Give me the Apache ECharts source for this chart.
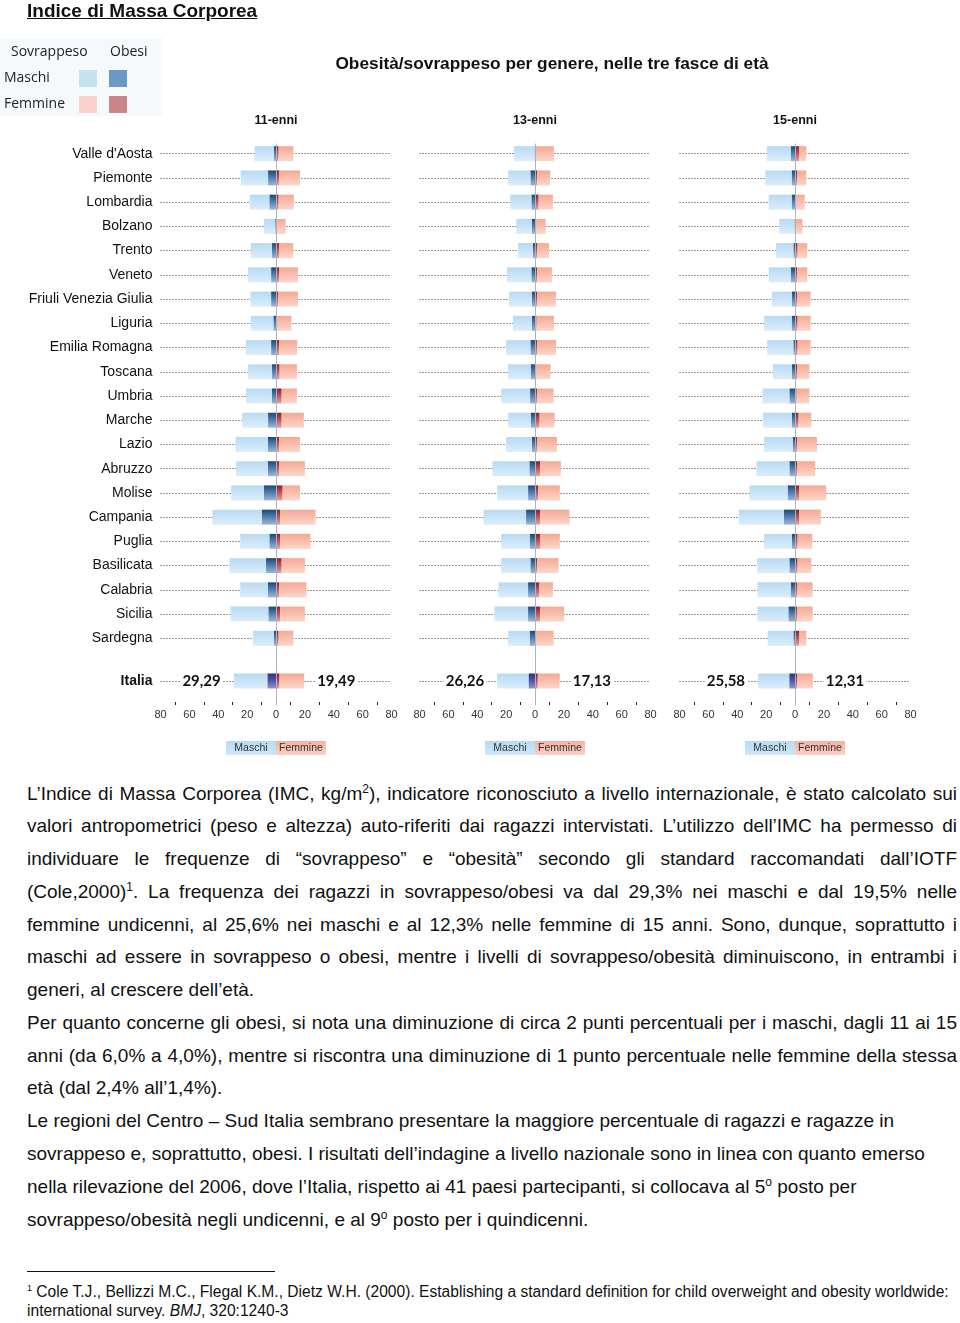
<!DOCTYPE html>
<html><head><meta charset="utf-8">
<script src="https://cdn.jsdelivr.net/npm/echarts@6/dist/echarts.min.js"></script>
<style>
html,body{margin:0;padding:0;background:#fff;width:960px;height:1323px;overflow:hidden;position:relative;font-family:'Liberation Sans',Arial,sans-serif;color:#111}
#chart{position:absolute;left:0;top:0;width:960px;height:770px}
#heading{position:absolute;left:27px;top:0px;font-weight:bold;font-size:19px;line-height:22px;text-decoration:underline;color:#111;z-index:2}
#txt{position:absolute;left:27px;top:777.6px;width:930px;font-size:19px;line-height:32.76px;color:#111}
#txt div{white-space:nowrap}
#txt div.j{white-space:normal;text-align:justify;text-align-last:justify}
#txt sup{font-size:12px;line-height:0;vertical-align:7px}
#rule{position:absolute;left:27px;top:1271px;width:248px;height:1px;background:#111}
#foot{position:absolute;left:27px;top:1282px;width:930px;font-size:15.6px;line-height:19px;color:#111}
#foot div{white-space:nowrap}
#foot sup{font-size:9px;line-height:0;vertical-align:6px}
</style></head>
<body>
<div id="heading">Indice di Massa Corporea</div>
<div id="chart"></div>
<div id="txt">
<div class="j">L’Indice di Massa Corporea (IMC, kg/m<sup>2</sup>), indicatore riconosciuto a livello internazionale, è stato calcolato sui</div>
<div class="j">valori antropometrici (peso e altezza) auto-riferiti dai ragazzi intervistati. L’utilizzo dell’IMC ha permesso di</div>
<div class="j">individuare le frequenze di “sovrappeso” e “obesità” secondo gli standard raccomandati dall’IOTF</div>
<div class="j">(Cole,2000)<sup>1</sup>. La frequenza dei ragazzi in sovrappeso/obesi va dal 29,3% nei maschi e dal 19,5% nelle</div>
<div class="j">femmine undicenni, al 25,6% nei maschi e al 12,3% nelle femmine di 15 anni. Sono, dunque, soprattutto i</div>
<div class="j">maschi ad essere in sovrappeso o obesi, mentre i livelli di sovrappeso/obesità diminuiscono, in entrambi i</div>
<div>generi, al crescere dell’età.</div>
<div class="j">Per quanto concerne gli obesi, si nota una diminuzione di circa 2 punti percentuali per i maschi, dagli 11 ai 15</div>
<div class="j">anni (da 6,0% a 4,0%), mentre si riscontra una diminuzione di 1 punto percentuale nelle femmine della stessa</div>
<div>età (dal 2,4% all’1,4%).</div>
<div>Le regioni del Centro – Sud Italia sembrano presentare la maggiore percentuale di ragazzi e ragazze in</div>
<div>sovrappeso e, soprattutto, obesi. I risultati dell’indagine a livello nazionale sono in linea con quanto emerso</div>
<div>nella rilevazione del 2006, dove l’Italia, rispetto ai 41 paesi partecipanti, si collocava al 5<sup>o</sup> posto per</div>
<div>sovrappeso/obesità negli undicenni, e al 9<sup>o</sup> posto per i quindicenni.</div>
</div>
<div id="rule"></div>
<div id="foot">
<div><sup>1</sup> Cole T.J., Bellizzi M.C., Flegal K.M., Dietz W.H. (2000). Establishing a standard definition for child overweight and obesity worldwide:</div>
<div>international survey. <i>BMJ</i>, 320:1240-3</div>
</div>
<script>
// ---------- DATA ----------
const regions = ["Valle d'Aosta","Piemonte","Lombardia","Bolzano","Trento","Veneto","Friuli Venezia Giulia","Liguria","Emilia Romagna","Toscana","Umbria","Marche","Lazio","Abruzzo","Molise","Campania","Puglia","Basilicata","Calabria","Sicilia","Sardegna"];
const ageGroups = ["11-enni","13-enni","15-enni"];
const italiaLabel = "Italia";

// Sovrappeso+obesi (total) and obesi, per region
const m11Tot = [14.9,24.4,18.2,8.3,17.5,19.3,17.7,17.5,20.9,19.3,20.8,23.4,28.0,27.6,31.0,44.1,24.8,32.2,24.8,31.5,15.9];
const m11Ob  = [1.4,5.5,4.6,0.5,2.8,3.4,3.4,1.8,3.4,2.8,2.8,5.5,5.7,5.7,8.3,9.9,4.6,6.9,5.7,5.3,1.4];
const f11Tot = [12.0,16.6,12.4,6.7,12.0,15.2,15.2,10.6,14.7,14.5,14.5,19.3,16.6,20.0,16.6,27.4,23.9,20.0,21.1,20.0,12.0];
const f11Ob  = [1.8,2.3,1.8,0.5,2.3,2.3,1.4,0.5,2.3,2.5,3.9,3.9,2.3,2.3,4.6,2.8,2.8,3.9,2.3,2.8,1.8];

const m13Tot = [14.5,18.6,17.2,12.9,11.7,19.5,17.9,15.2,20.0,18.6,23.4,18.6,20.0,29.4,26.2,35.6,23.4,23.4,25.3,28.0,18.6];
const m13Ob  = [0.3,3.2,2.5,2.1,1.4,2.5,2.1,2.1,3.2,3.0,3.4,3.0,2.1,3.9,4.8,6.2,3.7,3.2,4.8,4.8,3.7];
const f13Tot = [13.1,10.6,12.4,7.4,9.7,11.7,14.5,13.1,14.5,10.8,12.9,13.6,15.2,17.9,17.2,23.9,17.2,16.3,12.4,20.2,12.9];
const f13Ob  = [0.3,1.6,2.5,0.9,1.4,1.6,1.4,1.1,1.6,0.9,1.6,3.2,1.6,3.7,2.3,3.7,3.7,1.6,3.0,3.7,0.5];

const m15Tot = [19.5,20.5,18.2,11.0,13.1,18.2,16.1,21.4,19.3,15.4,22.5,22.1,21.4,26.7,31.5,38.9,21.4,26.2,26.0,26.0,18.9];
const m15Ob  = [3.0,2.3,2.3,0.3,1.1,3.0,2.1,2.3,1.1,2.1,3.9,2.1,1.6,3.9,5.1,7.8,2.1,3.9,3.0,4.6,1.1];
const f15Tot = [7.8,7.8,6.7,5.1,8.5,8.5,10.8,10.8,10.8,9.9,9.9,11.3,15.2,14.0,21.6,17.9,12.0,11.3,12.2,12.2,7.8];
const f15Ob  = [3.0,1.4,0.7,0.3,1.8,1.4,1.4,1.8,1.8,1.4,1.1,2.5,1.4,1.4,3.0,3.0,1.8,1.8,1.4,1.4,3.0];

// Italia
const italiaMTot = [29.29,26.26,25.58];
const italiaMOb  = [6.0,4.5,4.0];
const italiaFTot = [19.49,17.13,12.31];
const italiaFOb  = [2.4,1.9,1.4];

const legendRows = ["Maschi","Femmine"];
const legendCols = ["Sovrappeso","Obesi"];

// ---------- CHART ----------
const panels = [
  {mTot:m11Tot,mOb:m11Ob,fTot:f11Tot,fOb:f11Ob},
  {mTot:m13Tot,mOb:m13Ob,fTot:f13Tot,fOb:f13Ob},
  {mTot:m15Tot,mOb:m15Ob,fTot:f15Tot,fOb:f15Ob}
];
const G = echarts.graphic.LinearGradient;
const cLight = () => new G(0,0,0,1,[{offset:0,color:'#b7daf3'},{offset:1,color:'#dcedfa'}]);
const cDark  = () => new G(0,0,0,1,[{offset:0,color:'#1c4776'},{offset:0.5,color:'#5680b0'},{offset:1,color:'#9cb9d8'}]);
const cSalm  = () => new G(0,0,0,1,[{offset:0,color:'#f5a892'},{offset:1,color:'#fcd6cb'}]);
const cRed   = () => new G(0,0,0,1,[{offset:0,color:'#8c1d2a'},{offset:0.5,color:'#c4555c'},{offset:1,color:'#e6a5a3'}]);

const zeroX = [276,535,795];
const halfW = 115.5;
const rowTop = 141.6, rowH = 24.23;
const itTop = 657, itH = 48;
const fmt = v => v.toFixed(2).replace('.',',');
const FONT = "'Liberation Sans', Arial, sans-serif";

const grid=[], xAxis=[], yAxis=[], series=[], graphic=[];
panels.forEach((P,p)=>{
  const left = zeroX[p]-halfW;
  grid.push({left:left, width:2*halfW, top:rowTop, height:regions.length*rowH});
  grid.push({left:left, width:2*halfW, top:itTop, height:itH});
  grid.push({left:left, width:2*halfW, top:144, height:itTop+itH-144});
  const gi = 3*p;
  xAxis.push({gridIndex:gi, type:'value', min:-80, max:80, show:false});
  xAxis.push({gridIndex:gi+1, type:'value', min:-80, max:80, interval:20,
    axisLine:{lineStyle:{color:'#222',width:1}},
    axisTick:{inside:true,length:4,lineStyle:{color:'#222'}},
    minorTick:{show:true,splitNumber:2,length:3,lineStyle:{color:'#222'}},
    splitLine:{show:false},
    axisLabel:{formatter:v=>Math.abs(v),fontSize:11,color:'#333',margin:4,fontFamily:FONT}});
  xAxis.push({gridIndex:gi+2, type:'value', min:-80, max:80, show:false});
  yAxis.push({gridIndex:gi, type:'category', data:regions, inverse:true,
    axisLine:{show:false}, axisTick:{show:false}, splitLine:{show:false},
    axisLabel:{show:p===0, fontSize:14, color:'#111', margin:8, padding:[5,0,0,0], fontFamily:FONT}});
  yAxis.push({gridIndex:gi+1, type:'category', data:[italiaLabel],
    axisLine:{show:false}, axisTick:{show:false}, splitLine:{show:false},
    axisLabel:{show:p===0, fontSize:14, fontWeight:'bold', color:'#111', margin:8, padding:[4,0,0,0], fontFamily:FONT}});
  yAxis.push({gridIndex:gi+2, type:'value', min:0, max:1, z:6,
    axisLine:{show:true,onZero:true,lineStyle:{color:'#aeb4ba',width:1}},
    axisTick:{show:false}, axisLabel:{show:false}, splitLine:{show:false}});

  const dotted = {lineStyle:{type:[1,2],color:'#333',width:1}};
  const stack = 's'+p;
  // regional bars
  series.push({type:'bar', name:'Obesi Maschi', xAxisIndex:gi, yAxisIndex:gi, stack:stack, barWidth:15, z:2,
    data:P.mOb.map(v=>-v), itemStyle:{color:cDark()},
    markLine:{silent:true, symbol:'none', z:1, label:{show:false}, ...dotted, data:regions.map(r=>({yAxis:r}))}});
  series.push({type:'bar', name:'Sovrappeso Maschi', xAxisIndex:gi, yAxisIndex:gi, stack:stack, barWidth:15, z:2,
    data:P.mTot.map((v,i)=>-(v-P.mOb[i])), itemStyle:{color:cLight()}});
  series.push({type:'bar', name:'Obesi Femmine', xAxisIndex:gi, yAxisIndex:gi, stack:stack, barWidth:15, z:2,
    data:P.fOb.slice(), itemStyle:{color:cRed()}});
  series.push({type:'bar', name:'Sovrappeso Femmine', xAxisIndex:gi, yAxisIndex:gi, stack:stack, barWidth:15, z:2,
    data:P.fTot.map((v,i)=>v-P.fOb[i]), itemStyle:{color:cSalm()}});
  // Italia bars
  const lab = {fontFamily:"Lato, 'Open Sans', sans-serif", fontWeight:'bold', fontSize:15, color:'#111', backgroundColor:'#fff', padding:[0,2]};
  const stI = 'i'+p;
  series.push({type:'bar', name:'Obesi Maschi', xAxisIndex:gi+1, yAxisIndex:gi+1, stack:stI, barWidth:15, z:2,
    data:[-italiaMOb[p]], itemStyle:{color:new G(0,0,0,1,[{offset:0,color:'#2d2f86'},{offset:0.5,color:'#5458a8'},{offset:1,color:'#8d96cc'}])},
    markLine:{silent:true, symbol:'none', z:1, label:{show:false}, ...dotted, data:[{yAxis:italiaLabel}]}});
  series.push({type:'bar', name:'Sovrappeso Maschi', xAxisIndex:gi+1, yAxisIndex:gi+1, stack:stI, barWidth:15, z:2,
    data:[-(italiaMTot[p]-italiaMOb[p])], itemStyle:{color:cLight()},
    label:{show:true, position:'left', distance:11, formatter:()=>fmt(italiaMTot[p]), ...lab}});
  series.push({type:'bar', name:'Obesi Femmine', xAxisIndex:gi+1, yAxisIndex:gi+1, stack:stI, barWidth:15, z:2,
    data:[italiaFOb[p]], itemStyle:{color:new G(0,0,0,1,[{offset:0,color:'#7d1830'},{offset:0.5,color:'#b04860'},{offset:1,color:'#dc9aa5'}])}});
  series.push({type:'bar', name:'Sovrappeso Femmine', xAxisIndex:gi+1, yAxisIndex:gi+1, stack:stI, barWidth:15, z:2,
    data:[italiaFTot[p]-italiaFOb[p]], itemStyle:{color:cSalm()},
    label:{show:true, position:'right', distance:11, formatter:()=>fmt(italiaFTot[p]), ...lab}});

  // bottom legend per panel
  const cx = zeroX[p];
  graphic.push({type:'rect', shape:{x:cx-50,y:741,width:50,height:14}, style:{fill:new G(0,0,0,1,[{offset:0,color:'#b6dbf4'},{offset:1,color:'#cfe7f8'}])}});
  graphic.push({type:'rect', shape:{x:cx,y:741,width:50,height:14}, style:{fill:new G(0,0,0,1,[{offset:0,color:'#f6b3a0'},{offset:1,color:'#fad0c4'}])}});
  graphic.push({type:'text', x:cx-25, y:748, style:{text:legendRows[0], fill:'#333', font:"10.5px "+FONT, textAlign:'center', textVerticalAlign:'middle'}});
  graphic.push({type:'text', x:cx+25, y:748, style:{text:legendRows[1], fill:'#333', font:"10.5px "+FONT, textAlign:'center', textVerticalAlign:'middle'}});
});

// top-left legend
const LF = "14px 'Open Sans', sans-serif";
graphic.push({type:'rect', shape:{x:0,y:38,width:162,height:78}, style:{fill:'#f6f9fc'}, z:-1});
graphic.push({type:'text', x:11, y:52, style:{text:legendCols[0], fill:'#222', font:LF, textVerticalAlign:'middle'}});
graphic.push({type:'text', x:110, y:52, style:{text:legendCols[1], fill:'#222', font:LF, textVerticalAlign:'middle'}});
graphic.push({type:'text', x:4, y:78, style:{text:legendRows[0], fill:'#222', font:LF, textVerticalAlign:'middle'}});
graphic.push({type:'text', x:4, y:104, style:{text:legendRows[1], fill:'#222', font:LF, textVerticalAlign:'middle'}});
graphic.push({type:'rect', shape:{x:79,y:70,width:18,height:17}, style:{fill:'#c3e4ec'}});
graphic.push({type:'rect', shape:{x:109,y:70,width:18,height:17}, style:{fill:'#6c98c6'}});
graphic.push({type:'rect', shape:{x:79,y:96,width:18,height:17}, style:{fill:'#f9d3cb'}});
graphic.push({type:'rect', shape:{x:109,y:96,width:18,height:17}, style:{fill:'#cc8589'}});

const title = [{text:'Obesità/sovrappeso per genere, nelle tre fasce di età', left:552, top:56, padding:0, textAlign:'center',
  textStyle:{fontSize:17.3, fontWeight:'bold', color:'#111', fontFamily:FONT}}]
  .concat(ageGroups.map((a,i)=>({text:a, left:zeroX[i], top:114, padding:0, textAlign:'center',
  textStyle:{fontSize:12.5, fontWeight:'bold', color:'#111', fontFamily:FONT}})));

const chart = echarts.init(document.getElementById('chart'), null, {renderer:'canvas'});
chart.setOption({animation:false, backgroundColor:'transparent', title, grid, xAxis, yAxis, series, graphic});
</script>
</body></html>
